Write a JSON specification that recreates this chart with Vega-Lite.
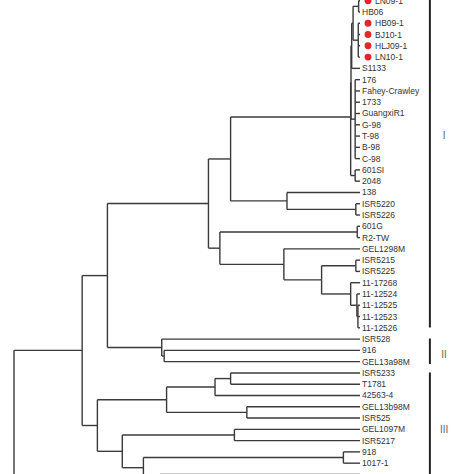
{
  "$schema": "https://vega.github.io/schema/vega-lite/v6.json",
  "width": 474,
  "height": 474,
  "autosize": {"type": "fit", "contains": "padding"},
  "padding": 0,
  "background": "white",
  "config": {"view": {"stroke": null}},
  "datasets": {
    "branches": [
      {"from": 0.996, "to": 1, "y": 0}, {"from": 0.996, "to": 1, "y": 1},
      {"from": 0.995, "to": 1, "y": 2}, {"from": 0.995, "to": 1, "y": 3}, {"from": 0.995, "to": 1, "y": 4}, {"from": 0.995, "to": 1, "y": 5},
      {"from": 0.976, "to": 1, "y": 6},
      {"from": 0.986, "to": 1, "y": 7}, {"from": 0.986, "to": 1, "y": 8}, {"from": 0.986, "to": 1, "y": 9}, {"from": 0.986, "to": 1, "y": 10},
      {"from": 0.986, "to": 1, "y": 11}, {"from": 0.986, "to": 1, "y": 12}, {"from": 0.986, "to": 1, "y": 13}, {"from": 0.986, "to": 1, "y": 14},
      {"from": 0.986, "to": 1, "y": 15}, {"from": 0.986, "to": 1, "y": 16},
      {"from": 0.789, "to": 1, "y": 17},
      {"from": 0.988, "to": 1, "y": 18}, {"from": 0.988, "to": 1, "y": 19},
      {"from": 0.992, "to": 1, "y": 20}, {"from": 0.992, "to": 1, "y": 21},
      {"from": 0.780, "to": 1, "y": 22},
      {"from": 0.988, "to": 1, "y": 23}, {"from": 0.988, "to": 1, "y": 24},
      {"from": 0.973, "to": 1, "y": 25},
      {"from": 0.991, "to": 1, "y": 26},
      {"from": 0.994, "to": 1, "y": 27}, {"from": 0.994, "to": 1, "y": 28}, {"from": 0.994, "to": 1, "y": 29},
      {"from": 0.427, "to": 1, "y": 30},
      {"from": 0.434, "to": 1, "y": 31}, {"from": 0.434, "to": 1, "y": 32},
      {"from": 0.626, "to": 1, "y": 33}, {"from": 0.626, "to": 1, "y": 34},
      {"from": 0.581, "to": 1, "y": 35},
      {"from": 0.673, "to": 1, "y": 36}, {"from": 0.673, "to": 1, "y": 37},
      {"from": 0.637, "to": 1, "y": 38}, {"from": 0.637, "to": 1, "y": 39},
      {"from": 0.952, "to": 1, "y": 40}, {"from": 0.952, "to": 1, "y": 41},
      {"from": 0.422, "to": 1, "y": 42},
      {"from": 0.980, "to": 0.996, "y": 0.5},
      {"from": 0.980, "to": 0.995, "y": 3.5},
      {"from": 0.976, "to": 0.980, "y": 2},
      {"from": 0.974, "to": 0.976, "y": 4},
      {"from": 0.974, "to": 0.986, "y": 10.5},
      {"from": 0.973, "to": 0.974, "y": 7.25},
      {"from": 0.973, "to": 0.986, "y": 15.5},
      {"from": 0.626, "to": 0.973, "y": 10.31},
      {"from": 0.789, "to": 0.988, "y": 18.5},
      {"from": 0.626, "to": 0.789, "y": 17.75},
      {"from": 0.562, "to": 0.626, "y": 14.03},
      {"from": 0.595, "to": 0.992, "y": 20.5},
      {"from": 0.889, "to": 0.988, "y": 23.5},
      {"from": 0.991, "to": 0.994, "y": 28},
      {"from": 0.973, "to": 0.991, "y": 27},
      {"from": 0.889, "to": 0.973, "y": 26},
      {"from": 0.780, "to": 0.889, "y": 24.75},
      {"from": 0.595, "to": 0.780, "y": 23.375},
      {"from": 0.562, "to": 0.595, "y": 21.94},
      {"from": 0.270, "to": 0.562, "y": 17.98},
      {"from": 0.427, "to": 0.434, "y": 31.5},
      {"from": 0.270, "to": 0.427, "y": 30.75},
      {"from": 0.197, "to": 0.270, "y": 24.37},
      {"from": 0.581, "to": 0.626, "y": 33.5},
      {"from": 0.441, "to": 0.581, "y": 34.25},
      {"from": 0.441, "to": 0.673, "y": 36.5},
      {"from": 0.241, "to": 0.441, "y": 35.375},
      {"from": 0.313, "to": 0.637, "y": 38.5},
      {"from": 0.374, "to": 0.952, "y": 40.5},
      {"from": 0.374, "to": 0.422, "y": 42.3},
      {"from": 0.313, "to": 0.374, "y": 41.4},
      {"from": 0.241, "to": 0.313, "y": 39.95},
      {"from": 0.197, "to": 0.241, "y": 37.66},
      {"from": 0, "to": 0.197, "y": 31.0}
    ],
    "nodes": [
      {"depth": 0.996, "top": 0, "bottom": 1},
      {"depth": 0.995, "top": 2, "bottom": 5},
      {"depth": 0.980, "top": 0.5, "bottom": 3.5},
      {"depth": 0.976, "top": 2, "bottom": 6},
      {"depth": 0.986, "top": 7, "bottom": 14},
      {"depth": 0.974, "top": 4, "bottom": 10.5},
      {"depth": 0.986, "top": 15, "bottom": 16},
      {"depth": 0.973, "top": 7.25, "bottom": 15.5},
      {"depth": 0.988, "top": 18, "bottom": 19},
      {"depth": 0.789, "top": 17, "bottom": 18.5},
      {"depth": 0.626, "top": 10.31, "bottom": 17.75},
      {"depth": 0.992, "top": 20, "bottom": 21},
      {"depth": 0.988, "top": 23, "bottom": 24},
      {"depth": 0.994, "top": 27, "bottom": 29},
      {"depth": 0.991, "top": 26, "bottom": 28},
      {"depth": 0.973, "top": 25, "bottom": 27},
      {"depth": 0.889, "top": 23.5, "bottom": 26},
      {"depth": 0.780, "top": 22, "bottom": 24.75},
      {"depth": 0.595, "top": 20.5, "bottom": 23.375},
      {"depth": 0.562, "top": 14.03, "bottom": 21.94},
      {"depth": 0.434, "top": 31, "bottom": 32},
      {"depth": 0.427, "top": 30, "bottom": 31.5},
      {"depth": 0.270, "top": 17.98, "bottom": 30.75},
      {"depth": 0.626, "top": 33, "bottom": 34},
      {"depth": 0.581, "top": 33.5, "bottom": 35},
      {"depth": 0.673, "top": 36, "bottom": 37},
      {"depth": 0.441, "top": 34.25, "bottom": 36.5},
      {"depth": 0.637, "top": 38, "bottom": 39},
      {"depth": 0.952, "top": 40, "bottom": 41},
      {"depth": 0.422, "top": 42, "bottom": 42.6},
      {"depth": 0.374, "top": 40.5, "bottom": 42.3},
      {"depth": 0.313, "top": 38.5, "bottom": 41.4},
      {"depth": 0.241, "top": 35.375, "bottom": 39.95},
      {"depth": 0.197, "top": 24.37, "bottom": 37.66},
      {"depth": 0, "top": 31.0, "bottom": 60}
    ],
    "leaves": [
      {"i": 0, "name": "LN09-1", "dot": true},
      {"i": 1, "name": "HB06", "dot": false},
      {"i": 2, "name": "HB09-1", "dot": true},
      {"i": 3, "name": "BJ10-1", "dot": true},
      {"i": 4, "name": "HLJ09-1", "dot": true},
      {"i": 5, "name": "LN10-1", "dot": true},
      {"i": 6, "name": "S1133", "dot": false},
      {"i": 7, "name": "176", "dot": false},
      {"i": 8, "name": "Fahey-Crawley", "dot": false},
      {"i": 9, "name": "1733", "dot": false},
      {"i": 10, "name": "GuangxiR1", "dot": false},
      {"i": 11, "name": "G-98", "dot": false},
      {"i": 12, "name": "T-98", "dot": false},
      {"i": 13, "name": "B-98", "dot": false},
      {"i": 14, "name": "C-98", "dot": false},
      {"i": 15, "name": "601SI", "dot": false},
      {"i": 16, "name": "2048", "dot": false},
      {"i": 17, "name": "138", "dot": false},
      {"i": 18, "name": "ISR5220", "dot": false},
      {"i": 19, "name": "ISR5226", "dot": false},
      {"i": 20, "name": "601G", "dot": false},
      {"i": 21, "name": "R2-TW", "dot": false},
      {"i": 22, "name": "GEL1298M", "dot": false},
      {"i": 23, "name": "ISR5215", "dot": false},
      {"i": 24, "name": "ISR5225", "dot": false},
      {"i": 25, "name": "11-17268", "dot": false},
      {"i": 26, "name": "11-12524", "dot": false},
      {"i": 27, "name": "11-12525", "dot": false},
      {"i": 28, "name": "11-12523", "dot": false},
      {"i": 29, "name": "11-12526", "dot": false},
      {"i": 30, "name": "ISR528", "dot": false},
      {"i": 31, "name": "916", "dot": false},
      {"i": 32, "name": "GEL13a98M", "dot": false},
      {"i": 33, "name": "ISR5233", "dot": false},
      {"i": 34, "name": "T1781", "dot": false},
      {"i": 35, "name": "42563-4", "dot": false},
      {"i": 36, "name": "GEL13b98M", "dot": false},
      {"i": 37, "name": "ISR525", "dot": false},
      {"i": 38, "name": "GEL1097M", "dot": false},
      {"i": 39, "name": "ISR5217", "dot": false},
      {"i": 40, "name": "918", "dot": false},
      {"i": 41, "name": "1017-1", "dot": false}
    ],
    "clades": [
      {"clade": "I", "top": -1, "bottom": 28.97, "labelAt": 12.0},
      {"clade": "II", "top": 29.95, "bottom": 32.21, "labelAt": 31.4},
      {"clade": "III", "top": 32.96, "bottom": 50, "labelAt": 38.06}
    ]
  },
  "layer": [
    {
      "data": {"name": "branches"},
      "mark": {"type": "rule", "color": "#3a3a3a", "strokeWidth": 1.4, "clip": true},
      "encoding": {
        "x": {"field": "from", "type": "quantitative", "axis": null, "scale": {"domain": [-0.04046, 1.32948], "nice": false, "zero": false}},
        "x2": {"field": "to"},
        "y": {"field": "y", "type": "quantitative", "axis": null, "scale": {"domain": [-0.062, 41.96], "reverse": true, "nice": false, "zero": false}}
      }
    },
    {
      "data": {"name": "nodes"},
      "mark": {"type": "rule", "color": "#3a3a3a", "strokeWidth": 1.4, "clip": true},
      "encoding": {
        "x": {"field": "depth", "type": "quantitative", "axis": null, "scale": {"domain": [-0.04046, 1.32948], "nice": false, "zero": false}},
        "y": {"field": "top", "type": "quantitative", "axis": null, "scale": {"domain": [-0.062, 41.96], "reverse": true, "nice": false, "zero": false}},
        "y2": {"field": "bottom"}
      }
    },
    {
      "data": {"name": "leaves"},
      "transform": [{"filter": "datum.dot"}],
      "mark": {"type": "circle", "fill": "#e3262b", "opacity": 1, "size": 48, "xOffset": 8, "clip": true},
      "encoding": {
        "x": {"datum": 1, "type": "quantitative", "axis": null, "scale": {"domain": [-0.04046, 1.32948], "nice": false, "zero": false}},
        "y": {"field": "i", "type": "quantitative", "axis": null, "scale": {"domain": [-0.062, 41.96], "reverse": true, "nice": false, "zero": false}}
      }
    },
    {
      "data": {"name": "leaves"},
      "transform": [{"filter": "datum.dot"}],
      "mark": {"type": "text", "align": "left", "baseline": "middle", "dx": 15, "font": "Liberation Sans", "fontSize": 8.5, "fill": "#333333", "clip": true},
      "encoding": {
        "x": {"datum": 1, "type": "quantitative", "axis": null, "scale": {"domain": [-0.04046, 1.32948], "nice": false, "zero": false}},
        "y": {"field": "i", "type": "quantitative", "axis": null, "scale": {"domain": [-0.062, 41.96], "reverse": true, "nice": false, "zero": false}},
        "text": {"field": "name"}
      }
    },
    {
      "data": {"name": "leaves"},
      "transform": [{"filter": "!datum.dot"}],
      "mark": {"type": "text", "align": "left", "baseline": "middle", "dx": 2, "font": "Liberation Sans", "fontSize": 8.5, "fill": "#333333", "clip": true},
      "encoding": {
        "x": {"datum": 1, "type": "quantitative", "axis": null, "scale": {"domain": [-0.04046, 1.32948], "nice": false, "zero": false}},
        "y": {"field": "i", "type": "quantitative", "axis": null, "scale": {"domain": [-0.062, 41.96], "reverse": true, "nice": false, "zero": false}},
        "text": {"field": "name"}
      }
    },
    {
      "data": {"name": "clades"},
      "mark": {"type": "rule", "stroke": "#222222", "strokeWidth": 2, "clip": true},
      "encoding": {
        "x": {"datum": 1.202, "type": "quantitative", "axis": null, "scale": {"domain": [-0.04046, 1.32948], "nice": false, "zero": false}},
        "y": {"field": "top", "type": "quantitative", "axis": null, "scale": {"domain": [-0.062, 41.96], "reverse": true, "nice": false, "zero": false}},
        "y2": {"field": "bottom"}
      }
    },
    {
      "data": {"name": "clades"},
      "mark": {"type": "text", "align": "center", "baseline": "middle", "font": "Liberation Sans", "fontSize": 10, "fill": "#666666", "clip": true},
      "encoding": {
        "x": {"datum": 1.243, "type": "quantitative", "axis": null, "scale": {"domain": [-0.04046, 1.32948], "nice": false, "zero": false}},
        "y": {"field": "labelAt", "type": "quantitative", "axis": null, "scale": {"domain": [-0.062, 41.96], "reverse": true, "nice": false, "zero": false}},
        "text": {"field": "clade"}
      }
    }
  ]
}
